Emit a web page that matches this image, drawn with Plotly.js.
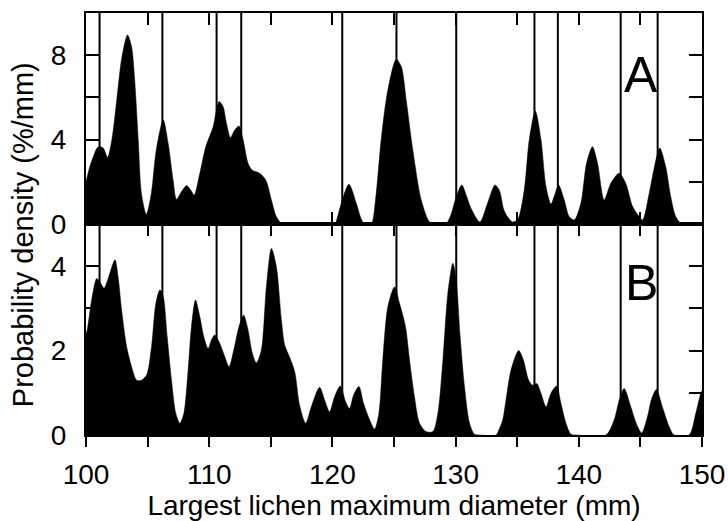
<!DOCTYPE html>
<html>
<head>
<meta charset="utf-8">
<script src="https://cdn.plot.ly/plotly-3.0.1.min.js"></script>
<style>html,body{margin:0;padding:0;background:#fff}#chart{width:728px;height:521px}</style>
</head>
<body>
<div id="chart"></div>
<script>
// Panel A: probability density (%/mm)
const xA = [100.0,100.3,100.6,100.9,101.1,101.4,101.75,102.1,102.5,102.9,103.37,103.7,103.97,104.24,104.5,104.9,105.3,105.7,106.27,106.67,107.07,107.34,107.75,108.16,108.5,108.78,109.24,109.72,110.32,110.8,111.13,111.4,111.72,112.07,112.42,112.75,113.15,113.48,114.1,114.59,115.05,115.45,115.86,116.2,118.0,120.18,120.4,120.72,121.34,121.94,122.3,122.6,123.15,123.5,123.96,124.5,125.18,125.59,125.99,126.53,127.21,127.88,128.3,129.2,129.6,130.0,130.5,130.9,131.24,131.97,132.6,133.2,133.55,133.9,134.2,134.62,135.03,135.57,135.98,136.47,136.93,137.34,137.74,138.0,138.36,138.82,139.22,139.63,140.17,140.63,141.11,141.52,142.06,142.6,143.27,143.81,144.35,144.76,145.17,145.71,146.1,146.57,147.06,147.46,147.87,148.36,150.0];
const yA = [2.0,2.7,3.2,3.6,3.66,3.6,3.16,4.0,5.9,7.85,8.96,8.4,6.67,4.0,1.45,0.46,1.45,3.5,4.93,3.82,2.08,1.17,1.53,1.82,1.61,1.37,2.4,3.66,4.61,5.8,5.56,4.77,4.1,4.45,4.64,4.0,2.88,2.56,2.4,2.08,1.14,0.35,0.03,0,0,0,0.3,0.98,1.88,0.98,0.3,0,0,1.14,4.0,6.35,7.8,7.46,5.88,3.5,1.14,0.1,0,0,0.4,1.2,1.85,1.3,0.76,0.1,1.0,1.85,1.6,0.7,0.35,0.1,0.2,1.6,4.0,5.35,4.0,1.77,0.95,1.3,1.85,1.14,0.35,0.19,0.98,2.88,3.66,2.88,1.14,1.93,2.4,1.93,0.85,0.46,0.19,1.45,2.6,3.6,2.7,1.3,0.35,0,0];

// Panel B: probability density (%/mm)
const xB = [100.0,100.1,100.46,100.87,101.13,101.46,101.8,102.35,102.62,102.89,103.3,103.7,104.11,104.51,104.92,105.32,105.67,106.0,106.27,106.59,106.94,107.29,107.62,107.94,108.29,108.56,108.89,109.24,109.56,109.91,110.18,110.45,110.86,111.26,111.61,111.99,112.42,112.8,113.15,113.5,113.83,114.23,114.64,115.05,115.45,115.86,116.13,116.53,116.94,117.34,117.83,118.29,118.96,119.37,119.77,120.18,120.64,121.07,121.39,121.72,122.15,122.53,123.02,123.42,123.77,124.09,124.5,125.04,125.45,125.93,126.26,126.66,127.07,127.61,128.15,128.56,128.97,129.37,129.78,130.05,130.37,130.72,131.13,131.53,132.0,133.28,133.55,133.82,134.09,134.5,135.12,135.5,135.93,136.26,136.58,136.93,137.34,137.74,138.2,138.55,138.96,139.36,139.8,142.2,142.87,143.3,143.68,144.22,144.7,145.11,145.57,145.9,146.3,146.78,147.33,147.73,148.95,149.49,149.9,150.0];
const yB = [2.4,2.49,3.2,3.71,3.63,3.48,3.71,4.15,3.71,2.96,2.09,1.62,1.30,1.30,1.42,2.09,3.12,3.44,3.28,2.33,1.30,0.51,0.28,0.51,1.54,2.57,3.2,2.8,2.33,2.05,2.25,2.37,2.17,1.86,1.62,2.01,2.57,2.84,2.49,1.94,1.71,2.01,3.51,4.42,3.99,2.73,2.13,1.84,1.50,0.7,0.28,0.67,1.13,0.83,0.55,0.91,1.16,0.79,0.63,0.95,1.15,0.75,0.36,0.14,0.51,1.78,3.04,3.51,3.12,2.57,1.78,0.91,0.28,0.08,0.08,0.51,1.78,3.36,4.07,3.67,2.33,1.15,0.28,0.02,0,0,0.15,0.35,0.83,1.54,2.0,1.78,1.30,1.18,1.22,0.99,0.67,0.99,1.16,0.75,0.28,0.02,0,0,0.36,0.85,1.1,0.67,0.25,0.05,0.43,0.85,1.08,0.67,0.2,0,0,0.51,0.99,1.05];

// Reference diameters marked by vertical lines
const markerLines = [101.1,106.2,110.6,112.6,120.8,125.2,130.05,136.4,138.3,143.4,146.4];

const xTickVals = [100,105,110,115,120,125,130,135,140,145,150];
const xTickText = ['100','','110','','120','','130','','140','','150'];
const yTickValsA = [0,2,4,6,8];
const yTickTextA = ['0','','4','','8'];
const yTickValsB = [0,1,2,3,4];
const yTickTextB = ['0','','2','','4'];

const FONT = 'Liberation Sans, Arial, Helvetica, sans-serif';

const traces = [
  {x: xA, y: yA, xaxis: 'x2', yaxis: 'y2', type: 'scatter', mode: 'lines',
   line: {color: '#000', width: 0.5, shape: 'spline', smoothing: 0.8},
   fill: 'tozeroy', fillcolor: '#000', hoverinfo: 'skip'},
  {x: xB, y: yB, xaxis: 'x', yaxis: 'y', type: 'scatter', mode: 'lines',
   line: {color: '#000', width: 0.5, shape: 'spline', smoothing: 0.8},
   fill: 'tozeroy', fillcolor: '#000', hoverinfo: 'skip'},
  {x: [100, 150], y: [0, 0], xaxis: 'x3', yaxis: 'y', type: 'scatter', mode: 'lines',
   line: {color: 'rgba(0,0,0,0)', width: 0}, hoverinfo: 'skip'}
];

const shapes = markerLines.map(v => ({
  type: 'line', xref: 'x', yref: 'paper', x0: v, x1: v, y0: 0, y1: 1,
  line: {color: '#000', width: 2}, layer: 'above'
}));

const commonX = {
  range: [100, 150], tickmode: 'array', tickvals: xTickVals, ticktext: xTickText,
  showgrid: false, zeroline: false, tickcolor: '#000', tickwidth: 2,
  linecolor: '#000', linewidth: 2, tickfont: {family: FONT, size: 28, color: '#000'}
};

const layout = {
  width: 728, height: 521,
  margin: {l: 86, r: 26, t: 13, b: 86, pad: 0},
  paper_bgcolor: '#fff', plot_bgcolor: '#fff',
  showlegend: false,
  font: {family: FONT, color: '#000'},
  xaxis: Object.assign({}, commonX, {
    anchor: 'y', ticks: 'outside', ticklen: 10, showline: true, mirror: true,
    showticklabels: true, ticklabelstandoff: 3,
    title: {text: 'Largest lichen maximum diameter (mm)', font: {family: FONT, size: 28, color: '#000'}, standoff: 9}
  }),
  xaxis3: Object.assign({}, commonX, {
    anchor: 'y', overlaying: 'x', side: 'top', ticks: 'inside', ticklen: 12,
    showline: false, showticklabels: false
  }),
  xaxis2: Object.assign({}, commonX, {
    anchor: 'y2', ticks: 'inside', ticklen: 12, showline: true, mirror: 'ticks',
    showticklabels: false
  }),
  yaxis: {
    domain: [0, 0.5], range: [0, 5], tickmode: 'array', tickvals: yTickValsB, ticktext: yTickTextB,
    ticks: 'inside', ticklen: 13, tickwidth: 2, tickcolor: '#000', mirror: 'ticks',
    showline: true, linecolor: '#000', linewidth: 2, showgrid: false, zeroline: false,
    ticklabelstandoff: 12, tickfont: {family: FONT, size: 28, color: '#000'}
  },
  yaxis2: {
    domain: [0.5, 1], range: [0, 10], anchor: 'x2', tickmode: 'array', tickvals: yTickValsA, ticktext: yTickTextA,
    ticks: 'inside', ticklen: 13, tickwidth: 2, tickcolor: '#000', mirror: 'ticks',
    showline: true, linecolor: '#000', linewidth: 2, showgrid: false, zeroline: false,
    ticklabelstandoff: 12, tickfont: {family: FONT, size: 28, color: '#000'}
  },
  shapes: shapes,
  annotations: [
    {text: 'A', xref: 'paper', yref: 'paper', x: 0.901, y: 0.853, xanchor: 'center', yanchor: 'middle',
     showarrow: false, font: {family: FONT, size: 50, color: '#000'}},
    {text: 'B', xref: 'paper', yref: 'paper', x: 0.901, y: 0.36, xanchor: 'center', yanchor: 'middle',
     showarrow: false, font: {family: FONT, size: 50, color: '#000'}},
    {text: 'Probability density (%/mm)', xref: 'paper', yref: 'paper', x: -0.102, y: 0.474,
     xanchor: 'center', yanchor: 'middle', textangle: -90, showarrow: false,
     font: {family: FONT, size: 29, color: '#000'}}
  ]
};

Plotly.newPlot('chart', traces, layout, {displayModeBar: false, staticPlot: true});
</script>
</body>
</html>
